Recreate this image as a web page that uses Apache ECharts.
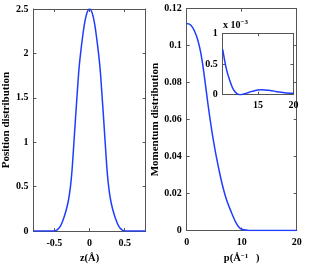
<!DOCTYPE html>
<html>
<head>
<meta charset="utf-8">
<script src="https://cdn.jsdelivr.net/npm/echarts@6/dist/echarts.min.js"></script>
<style>
html,body{margin:0;padding:0;background:#fff;}
#c{width:311px;height:269px;}
</style>
</head>
<body>
<div id="c"></div>
<script>
// Position distribution
var positionZ = [-0.8, -0.6, -0.525, -0.5, -0.475, -0.45, -0.425, -0.4, -0.375, -0.35, -0.325, -0.3, -0.275, -0.25, -0.225, -0.2, -0.175, -0.15, -0.125, -0.1, -0.075, -0.05, -0.025, 0,
  0.025, 0.05, 0.075, 0.1, 0.125, 0.15, 0.175, 0.2, 0.225, 0.25, 0.275, 0.3, 0.325, 0.35, 0.375, 0.4, 0.425, 0.45, 0.475, 0.5, 0.525, 0.6, 0.8];
var positionValues = [0, 0, 0, 0.002, 0.008, 0.022, 0.045, 0.08, 0.13, 0.19, 0.26, 0.35, 0.48, 0.68, 0.97, 1.27, 1.56, 1.83, 2.02, 2.18, 2.32, 2.42, 2.48, 2.50,
  2.48, 2.42, 2.32, 2.18, 2.02, 1.83, 1.56, 1.27, 0.97, 0.68, 0.48, 0.35, 0.26, 0.19, 0.13, 0.08, 0.045, 0.022, 0.008, 0.002, 0, 0, 0];

// Momentum distribution
var momentumP = [0, 0.5, 1, 1.5, 2, 2.5, 3, 3.5, 4, 4.5, 5, 5.5, 6, 6.5, 7, 7.5, 8, 8.5, 9, 9.5, 10, 10.5, 11, 11.5, 12, 13, 14, 15, 16, 17, 18, 19, 20];
var momentumValues = [0.1120, 0.1116, 0.1102, 0.1074, 0.1032, 0.0970, 0.0880, 0.0768, 0.0655, 0.0553, 0.0462, 0.0382, 0.0310, 0.0245, 0.0190, 0.0145, 0.0108, 0.0072, 0.0040, 0.0018, 0.00074, 0.00043, 0.00023, 0.000085, 0.000018, 0.00001, 0.00005, 0.000077, 0.000078, 0.000063, 0.000043, 0.000029, 0.000022];

// Inset (values in units of 1e-3)
var insetP = [10, 10.5, 11, 11.5, 12, 12.5, 13, 13.5, 14, 14.5, 15, 15.5, 16, 16.5, 17, 17.5, 18, 18.5, 19, 19.5, 20];
var insetValuesE3 = [0.74, 0.43, 0.23, 0.085, 0.018, 0.0, 0.01, 0.03, 0.05, 0.066, 0.077, 0.081, 0.078, 0.072, 0.063, 0.053, 0.043, 0.035, 0.029, 0.025, 0.022];

var posTicksX = [-0.5, 0, 0.5];
var insetTicksX = [15, 20];

var FONT = 'Liberation Serif';
var AX = '#555';
var BLUE = '#1f3dff';
var labelStyle = {color: '#000', fontFamily: FONT, fontWeight: 'bold', fontSize: 10};

function pair(arrX, arrY) { return arrX.map(function (x, i) { return [x, arrY[i]]; }); }

function xAx(grid, min, max, opts, mirror) {
  var a = {
    type: 'value', gridIndex: grid, min: min, max: max,
    position: mirror ? 'top' : 'bottom',
    axisLine: {show: true, onZero: false, lineStyle: {color: AX, width: 1}},
    axisTick: {show: true, inside: true, length: 3, lineStyle: {color: AX}},
    axisLabel: Object.assign({show: !mirror, margin: opts.margin || 6}, labelStyle),
    splitLine: {show: false}
  };
  if (opts.interval) a.interval = opts.interval;
  if (opts.custom) { a.axisTick.customValues = opts.custom; a.axisLabel.customValues = opts.custom; }
  if (opts.name && !mirror) {
    a.name = opts.name; a.nameLocation = 'middle'; a.nameGap = opts.nameGap || 16;
    a.nameTextStyle = opts.nameStyle;
  }
  return a;
}
function yAx(grid, min, max, interval, opts, mirror) {
  var a = {
    type: 'value', gridIndex: grid, min: min, max: max, interval: interval,
    position: mirror ? 'right' : 'left',
    axisLine: {show: true, onZero: false, lineStyle: {color: AX, width: 1}},
    axisTick: {show: true, inside: true, length: 3, lineStyle: {color: AX}},
    axisLabel: Object.assign({show: !mirror, margin: 5}, labelStyle),
    splitLine: {show: false}
  };
  if (opts.name && !mirror) {
    a.name = opts.name; a.nameLocation = 'middle'; a.nameGap = opts.nameGap || 18;
    a.nameTextStyle = {color: '#000', fontFamily: FONT, fontWeight: 'bold', fontSize: 11};
  }
  return a;
}

var chart = echarts.init(document.getElementById('c'), null, {renderer: 'canvas'});
var option = {
  animation: false,
  backgroundColor: '#fff',
  grid: [
    {left: 31.7, right: 165.3, top: 9, bottom: 29.7, containLabel: false},
    {left: 186.7, right: 14.3, top: 8.7, bottom: 29.7, containLabel: false},
    {left: 222.7, right: 17.5, top: 33.3, bottom: 174.3, containLabel: false, show: true, backgroundColor: '#fff', borderWidth: 0}
  ],
  xAxis: [
    xAx(0, -0.8, 0.8, {custom: posTicksX, margin: 7, name: 'z(Å)', nameGap: 20,
      nameStyle: {color: '#000', fontFamily: FONT, fontWeight: 'bold', fontSize: 10.5}}, false),
    xAx(0, -0.8, 0.8, {custom: posTicksX}, true),
    xAx(1, 0, 20, {interval: 10, margin: 7, name: '{a|p(Å}{s|−1}{a|   )}', nameGap: 20,
      nameStyle: {color: '#000', fontFamily: FONT, fontWeight: 'bold', fontSize: 10.5,
        rich: {a: {fontFamily: FONT, fontWeight: 'bold', fontSize: 10.5, color: '#000'},
               s: {fontFamily: FONT, fontWeight: 'bold', fontSize: 7, color: '#000', verticalAlign: 'top', padding: [0, 0, 5, 0]}}}}, false),
    xAx(1, 0, 20, {interval: 10}, true),
    xAx(2, 10, 20, {custom: insetTicksX, margin: 6}, false),
    xAx(2, 10, 20, {custom: insetTicksX}, true)
  ],
  yAxis: [
    yAx(0, 0, 2.5, 0.5, {name: 'Position distribution', nameGap: 15}, false),
    yAx(0, 0, 2.5, 0.5, {}, true),
    yAx(1, 0, 0.12, 0.02, {name: 'Momentum distribution', nameGap: 21}, false),
    yAx(1, 0, 0.12, 0.02, {}, true),
    yAx(2, 0, 1, 0.5, {}, false),
    yAx(2, 0, 1, 0.5, {}, true)
  ],
  series: [
    {type: 'line', xAxisIndex: 0, yAxisIndex: 0, data: pair(positionZ, positionValues), smooth: 0.3,
      showSymbol: false, lineStyle: {color: BLUE, width: 1.5}, clip: true},
    {type: 'line', xAxisIndex: 2, yAxisIndex: 2, data: pair(momentumP, momentumValues), smooth: 0.3,
      showSymbol: false, lineStyle: {color: BLUE, width: 1.5}, clip: true},
    {type: 'line', xAxisIndex: 4, yAxisIndex: 4, data: pair(insetP, insetValuesE3), smooth: 0.3,
      showSymbol: false, lineStyle: {color: BLUE, width: 1.5}, clip: true}
  ],
  graphic: [
    {type: 'text', left: 223, top: 19,
      style: {text: '{a|x 10}{s|−3}', rich: {
        a: {fontFamily: FONT, fontWeight: 'bold', fontSize: 10, fill: '#000'},
        s: {fontFamily: FONT, fontWeight: 'bold', fontSize: 7, fill: '#000', verticalAlign: 'top', padding: [0, 0, 6, 0]}}}}
  ]
};
chart.setOption(option);
</script>
</body>
</html>
